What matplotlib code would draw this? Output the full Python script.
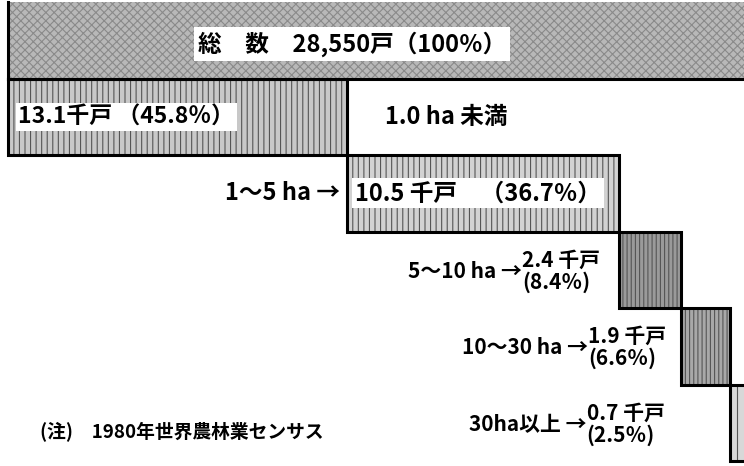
import matplotlib.pyplot as plt

plt.rcParams['font.family'] = ['Noto Sans CJK JP', 'DejaVu Sans']
plt.rcParams['font.weight'] = 'bold'

# data
total_households = '28,550'
categories = ['1.0 ha 未満', '1～5 ha', '5～10 ha', '10～30 ha', '30ha以上']
thousands = [13.1, 10.5, 2.4, 1.9, 0.7]
percents = [45.8, 36.7, 8.4, 6.6, 2.5]
note = '(注)　1980年世界農林業センサス'

fills = ['#c8c8c8', '#d2d2d2', '#9a9a9a', '#a8a8a8', '#d8d8d8']
hatches = ['|||', '|||', '||||', '||||', '||']

fig = plt.figure(figsize=(7.44, 4.66), dpi=100)
ax = fig.add_axes([0, 0, 1, 1])
ax.set_xlim(-8 / 7.4, (744 - 8) / 7.4)
ax.set_ylim((466 - 2) / 76.5, -2 / 76.5)
ax.axis('off')

plt.rcParams['hatch.linewidth'] = 0.8

# total bar
ax.barh(0.5, 100, left=0, height=1, color='#b8b8b8', hatch='xxxx',
        edgecolor='#8a8a8a', linewidth=0)
ax.plot([0, 0], [0, 1], color='black', lw=2.2)
ax.plot([0, 101], [1, 1], color='black', lw=2.2)
ax.text(46.5, 0.55, f'総　数　{total_households}戸（100％）', ha='center', va='center',
        fontsize=17, bbox=dict(facecolor='white', edgecolor='none', pad=3))

# category bars
left = 0
lefts = []
for i, pct in enumerate(percents):
    y = i + 1.5
    ax.barh(y, pct, left=left, height=1, color=fills[i], hatch=hatches[i],
            edgecolor='#555555', linewidth=0)
    ax.barh(y, pct, left=left, height=1, fill=False, edgecolor='black', linewidth=2.2)
    lefts.append(left)
    left += pct

box = dict(facecolor='white', edgecolor='none', pad=2)

# row 1
ax.text(1.4, 1.5, f'{thousands[0]}千戸 （{percents[0]}％）', ha='left', va='center',
        fontsize=16.5, bbox=box)
ax.text(lefts[1] + 5.2, 1.5, categories[0], ha='left', va='center', fontsize=17)

# row 2
ax.text(lefts[1] - 0.9, 2.5, categories[1] + ' →', ha='right', va='center', fontsize=17)
ax.text(lefts[1] + 1.1, 2.5, f'{thousands[1]} 千戸　（{percents[1]}％）', ha='left',
        va='center', fontsize=17, bbox=box)

# rows 3-5
label_x = [69.5, 78.4, 78.2]
for k, i in enumerate([2, 3, 4]):
    y = i + 1.5
    ax.text(label_x[k], y + 0.02, categories[i] + ' →', ha='right', va='center', fontsize=15)
    ax.text(label_x[k], y - 0.13, f'{thousands[i]} 千戸', ha='left', va='center', fontsize=15)
    ax.text(label_x[k], y + 0.16, f'({percents[i]}％)', ha='left', va='center', fontsize=15)

ax.text(4.3, 5.62, note, ha='left', va='center', fontsize=13.5)

fig.savefig('out.png', dpi=100)
